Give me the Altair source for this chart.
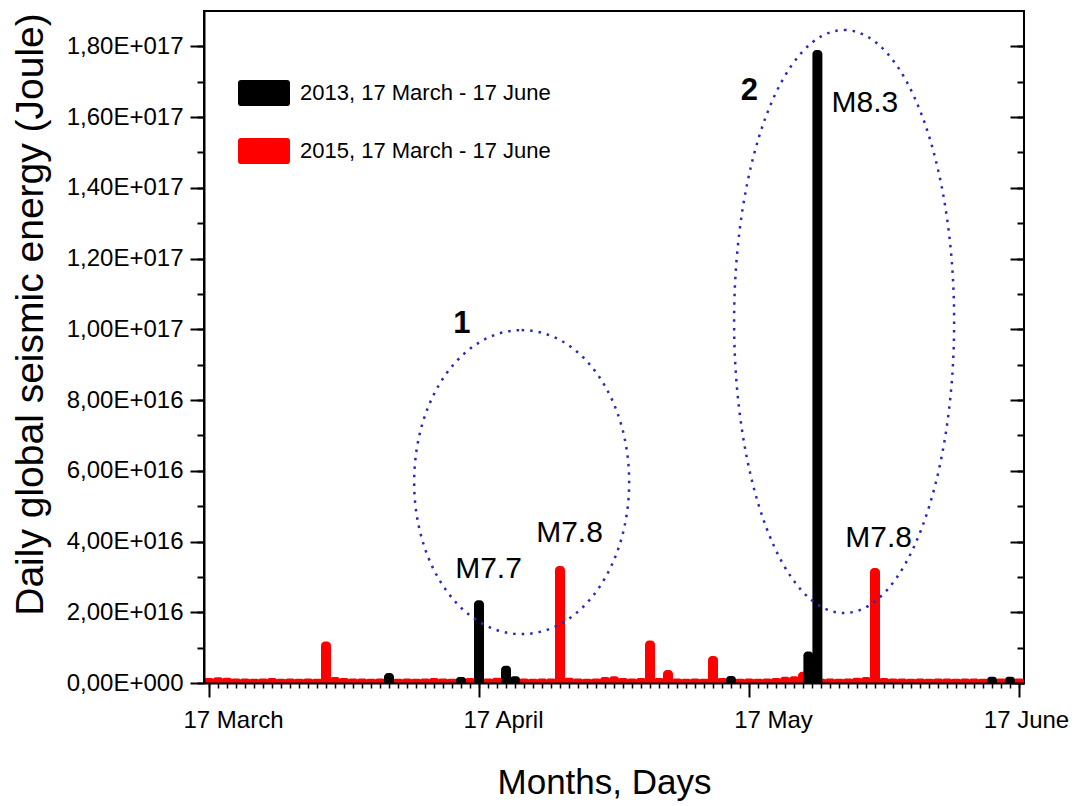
import altair as alt
import pandas as pd

FONT = "Liberation Sans"

# ---------------- data ----------------
series_names = ["2013, 17 March - 17 June", "2015, 17 March - 17 June"]
series_colors = ["#000000", "#ff0000"]

# 2015: daily values (units of 1e15 J), day index 0 = 17 March
days_2015 = list(range(91))
energy_2015_e15 = [
    1.4, 1.6, 1.5, 1.3, 1.3, 1.2, 1.3, 1.4, 1.2, 1.3,
    1.2, 1.3, 1.2, 11.7, 1.7, 1.4, 1.3, 1.3, 1.2, 1.3,
    1.3, 1.2, 1.3, 1.2, 1.3, 1.4, 1.3, 1.2, 1.3, 1.4,
    1.3, 1.3, 1.5, 1.3, 1.4, 1.3, 1.2, 1.3, 1.3, 33.1,
    1.5, 1.3, 1.2, 1.3, 1.7, 1.9, 1.4, 1.3, 1.4, 12.0,
    1.4, 3.7, 1.3, 1.2, 1.3, 1.2, 7.6, 1.4, 1.3, 1.2,
    1.3, 1.2, 1.3, 1.4, 1.8, 1.9, 3.2, 1.3, 1.2, 1.3,
    1.2, 1.3, 1.5, 1.7, 32.5, 1.4, 1.3, 1.3, 1.2, 1.3,
    1.2, 1.3, 1.3, 1.2, 1.3, 1.3, 1.2, 1.3, 1.3, 1.2,
    1.3,
]

# 2013: days with visible energy (units of 1e15 J)
days_2013 = [20, 28, 30, 33, 34, 58, 66.6, 67.6, 87, 89]
energy_2013_e15 = [2.8, 1.7, 23.4, 4.9, 1.9, 2.0, 8.9, 179.0, 1.8, 1.8]

x_tick_values = [0, 30, 60, 90]
x_tick_labels = ["17 March", "17 April", "17 May", "17 June"]
x_minor_values = list(range(91))

y_tick_values = [i * 2e16 for i in range(10)]
y_tick_labels = ["0,00E+000", "2,00E+016", "4,00E+016", "6,00E+016", "8,00E+016",
                 "1,00E+017", "1,20E+017", "1,40E+017", "1,60E+017", "1,80E+017"]
y_minor_values = [i * 1e16 for i in range(19)]

annot_text = ["M7.7", "M7.8", "M8.3", "M7.8"]
annot_day = [31.06, 40.06, 72.88, 74.41]
annot_val = [2.97e16, 3.99e16, 1.614e17, 3.85e16]

group_text = ["1", "2"]
group_day = [28.1, 60.04]
group_val = [1.015e17, 1.674e17]

ellipse_day = [34.74, 70.57]
ellipse_val = [5.68e16, 1.022e17]

# ---------------- frames ----------------
df15 = pd.DataFrame({"day": days_2015, "energy": [v * 1e15 for v in energy_2015_e15],
                     "series": series_names[1]})
df13 = pd.DataFrame({"day": days_2013, "energy": [v * 1e15 for v in energy_2013_e15],
                     "series": series_names[0]})
df_annot = pd.DataFrame({"day": annot_day, "energy": annot_val, "txt": annot_text})
df_group = pd.DataFrame({"day": group_day, "energy": group_val, "txt": group_text})

xs = alt.Scale(domain=[0, 90], nice=False, zero=False)
ys = alt.Scale(domain=[0, 1.9e17], nice=False)
color_scale = alt.Scale(domain=series_names, range=series_colors)

x_label_expr = "[" + ",".join('"%s"' % s for s in x_tick_labels) + "][round(datum.value/30)]"
y_label_expr = "[" + ",".join('"%s"' % s for s in y_tick_labels) + "][round(datum.value/2e16)]"

RECT_PATH = ("M-0.88,-0.5 L0.88,-0.5 Q1,-0.5 1,-0.38 L1,0.38 Q1,0.5 0.88,0.5 "
             "L-0.88,0.5 Q-1,0.5 -1,0.38 L-1,-0.38 Q-1,-0.5 -0.88,-0.5 Z")


def ellipse_path(ratio):
    k = 0.5523
    r = ratio
    return (f"M0,-1 C{k*r:.4f},-1 {r:.4f},-{k} {r:.4f},0 "
            f"C{r:.4f},{k} {k*r:.4f},1 0,1 "
            f"C{-k*r:.4f},1 {-r:.4f},{k} {-r:.4f},0 "
            f"C{-r:.4f},-{k} {-k*r:.4f},-1 0,-1 Z")


bar_kw = dict(size=10, cornerRadiusTopLeft=4, cornerRadiusTopRight=4, clip=True)

red = alt.Chart(df15).mark_bar(**bar_kw).encode(
    x=alt.X("day:Q", scale=xs, axis=alt.Axis(
        orient="bottom", values=x_tick_values, labelExpr=x_label_expr,
        tickSize=14, tickWidth=2, tickColor="black", domainWidth=2, domainColor="black",
        labelFont=FONT, labelFontSize=24, labelColor="black", labelPadding=11,
        labelOffset={"condition": {"test": "datum.value == 90", "value": 7}, "value": 24},
        title="Months, Days", titleFont=FONT, titleFontSize=35, titleFontWeight="normal",
        titleColor="black", titleX=400, titleY=110, titleBaseline="alphabetic",
        titleAlign="center", grid=False, zindex=1)),
    y=alt.Y("energy:Q", scale=ys, stack=None, axis=alt.Axis(
        orient="left", values=y_tick_values, labelExpr=y_label_expr,
        tickSize=14, tickWidth=2, tickColor="black", domainWidth=2, domainColor="black",
        labelFont=FONT, labelFontSize=24, labelColor="black", labelPadding=7,
        title="Daily global seismic energy (Joule)", titleFont=FONT, titleFontSize=39,
        titleFontWeight="normal", titleColor="black", titleX=-162, titleY=303,
        titleAngle=270, titleBaseline="alphabetic", titleAlign="center",
        grid=False, zindex=1)),
    color=alt.Color("series:N", scale=color_scale, legend=alt.Legend(
        orient="none", legendX=34, legendY=56, title=None, symbolType=RECT_PATH,
        symbolSize=2704, symbolStrokeWidth=0, symbolOpacity=1, labelFont=FONT,
        labelFontSize=22, labelColor="black", labelOffset=10, rowPadding=19,
        padding=0, labelLimit=500)),
)

black = alt.Chart(df13).mark_bar(**bar_kw).encode(
    x=alt.X("day:Q", scale=xs, axis=alt.Axis(
        orient="bottom", values=x_minor_values, labels=False, domain=False,
        tickSize=5, tickWidth=1.5, tickColor="black", title=None, grid=False)),
    y=alt.Y("energy:Q", scale=ys, stack=None, axis=alt.Axis(
        orient="left", values=y_minor_values, labels=False, domain=False,
        tickSize=7, tickWidth=2, tickColor="black", title=None, grid=False)),
    color=alt.Color("series:N", scale=color_scale),
)

BLUE = "#2a2ab8"
ell_kw = dict(filled=False, stroke=BLUE, strokeWidth=2.5, strokeDash=[2.5, 6], opacity=1)

ell1 = alt.Chart(pd.DataFrame({"day": [ellipse_day[0]], "energy": [ellipse_val[0]]})).mark_point(
    shape=ellipse_path(215 / 304), size=304 ** 2, **ell_kw).encode(
    x=alt.X("day:Q", scale=xs, axis=None),
    y=alt.Y("energy:Q", scale=ys, axis=alt.Axis(
        orient="right", values=y_tick_values, labels=False, domain=False, offset=-14,
        tickSize=14, tickWidth=2, tickColor="black", title=None, grid=False)),
)

ell2 = alt.Chart(pd.DataFrame({"day": [ellipse_day[1]], "energy": [ellipse_val[1]]})).mark_point(
    shape=ellipse_path(220 / 583), size=583 ** 2, **ell_kw).encode(
    x=alt.X("day:Q", scale=xs, axis=None),
    y=alt.Y("energy:Q", scale=ys, axis=alt.Axis(
        orient="right", values=y_minor_values, labels=False, domain=False, offset=-7,
        tickSize=7, tickWidth=2, tickColor="black", title=None, grid=False)),
)

annots = alt.Chart(df_annot).mark_text(
    font=FONT, fontSize=30, baseline="alphabetic", align="center", color="black").encode(
    x=alt.X("day:Q", scale=xs, axis=None),
    y=alt.Y("energy:Q", scale=ys, axis=None),
    text="txt:N",
)

groups = alt.Chart(df_group).mark_text(
    font=FONT, fontSize=31, fontWeight="bold", baseline="middle", align="center",
    color="black").encode(
    x=alt.X("day:Q", scale=xs, axis=None),
    y=alt.Y("energy:Q", scale=ys, axis=None),
    text="txt:N",
)

chart = alt.layer(red, black, ell1, ell2, annots, groups).resolve_axis(
    x="independent", y="independent"
).properties(
    width=820, height=672,
    padding={"left": 204, "top": 11, "right": 60, "bottom": 123},
    autosize="none",
    background="white",
).configure_view(stroke="black", strokeWidth=2)

chart.save("out.html", embed_options={"renderer": "svg", "actions": False})
